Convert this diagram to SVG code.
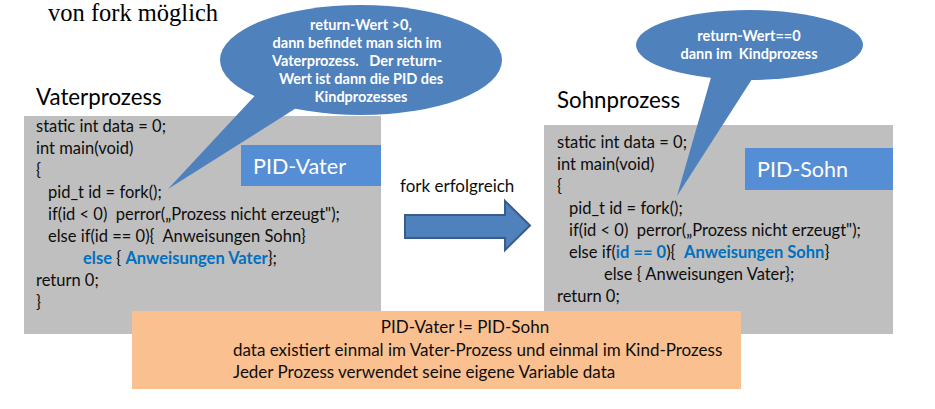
<svg xmlns="http://www.w3.org/2000/svg" width="935" height="409" viewBox="0 0 935 409">
  <style>
    text { white-space: pre; }
    .sans { font-family: Lato, "Open Sans", "Liberation Sans", sans-serif; }
    .code { font-family: Lato, "Open Sans", "Liberation Sans", sans-serif; font-size: 16.5px; fill: #0d0d0d; }
    .hl { font-weight: bold; fill: #0070C0; }
    .heading { font-family: Lato, "Open Sans", "Liberation Sans", sans-serif; font-size: 22.3px; fill: #000; }
    .pid { font-family: Lato, "Open Sans", "Liberation Sans", sans-serif; font-size: 21.5px; fill: #fff; }
    .bubble { fill: #4F81BD; }
    .bubble-text { font-family: Lato, "Open Sans", "Liberation Sans", sans-serif; font-size: 14.5px; font-weight: bold; fill: #fff; text-anchor: middle; }
    .codebox { fill: #BFBFBF; }
    .pidbox { fill: #558ED5; }
    .note { font-family: Lato, "Open Sans", "Liberation Sans", sans-serif; font-size: 17px; fill: #0d0d0d; }
  </style>

  <rect width="935" height="409" fill="#fff"/>

  <!-- heading line -->
  <text x="48" y="21" font-family="'Liberation Serif', serif" font-size="24.5" fill="#000">von fork möglich</text>

  <!-- parent process -->
  <g id="vaterprozess">
    <text class="heading" x="36" y="105">Vaterprozess</text>
    <rect class="codebox" x="24" y="116" width="357" height="218"/>
    <text class="code" x="36" y="132">static int data = 0;</text>
    <text class="code" x="36" y="154">int main(void)</text>
    <text class="code" x="36" y="176">{</text>
    <text class="code" x="48" y="198">pid_t id = fork();</text>
    <text class="code" x="48" y="220">if(id &lt; 0)  perror(„Prozess nicht erzeugt");</text>
    <text class="code" x="48" y="242">else if(id == 0){  Anweisungen Sohn}</text>
    <text class="code" x="83" y="264"><tspan class="hl">else</tspan> { <tspan class="hl">Anweisungen Vater</tspan>};</text>
    <text class="code" x="36" y="286">return 0;</text>
    <text class="code" x="36" y="308">}</text>
  </g>

  <g id="pid-vater">
    <rect class="pidbox" x="241" y="145" width="140" height="41"/>
    <text class="pid" x="253" y="174">PID-Vater</text>
  </g>

  <!-- callout for the parent -->
  <g id="callout-vater">
    <ellipse class="bubble" cx="361" cy="60" rx="141" ry="55"/>
    <polygon class="bubble" points="168,189 262,88 312,98"/>
    <text class="bubble-text" x="361" y="30">return-Wert &gt;0,</text>
    <text class="bubble-text" x="357" y="48">dann befindet man sich im</text>
    <text class="bubble-text" x="357" y="66">Vaterprozess.   Der return-</text>
    <text class="bubble-text" x="361" y="84">Wert ist dann die PID des</text>
    <text class="bubble-text" x="361" y="102">Kindprozesses</text>
  </g>

  <!-- child process -->
  <g id="sohnprozess">
    <text class="heading" x="557" y="108">Sohnprozess</text>
    <rect class="codebox" x="544" y="125" width="349" height="209"/>
    <text class="code" x="557" y="148">static int data = 0;</text>
    <text class="code" x="557" y="170">int main(void)</text>
    <text class="code" x="557" y="192">{</text>
    <text class="code" x="569" y="214">pid_t id = fork();</text>
    <text class="code" x="569" y="236">if(id &lt; 0)  perror(„Prozess nicht erzeugt");</text>
    <text class="code" x="569" y="258">else if(<tspan class="hl">id == 0</tspan>){  <tspan class="hl">Anweisungen Sohn</tspan>}</text>
    <text class="code" x="604" y="280">else { Anweisungen Vater};</text>
    <text class="code" x="557" y="302">return 0;</text>
  </g>

  <g id="pid-sohn">
    <rect class="pidbox" x="745" y="148" width="148" height="42"/>
    <text class="pid" x="757" y="177">PID-Sohn</text>
  </g>

  <!-- callout for the child -->
  <g id="callout-sohn">
    <ellipse class="bubble" cx="749.5" cy="45" rx="113.5" ry="35"/>
    <polygon class="bubble" points="677,196 712,74 754,76"/>
    <text class="bubble-text" x="749" y="41">return-Wert==0</text>
    <text class="bubble-text" x="749" y="59">dann im  Kindprozess</text>
  </g>

  <!-- connector: fork succeeded -->
  <g id="connectors">
    <text class="sans" x="400" y="192" font-size="17" fill="#0d0d0d">fork erfolgreich</text>
    <polygon points="405,215 505,215 505,201 530,225.5 505,250 505,238 405,238" fill="#4F81BD" stroke="#385D8A" stroke-width="2" stroke-linejoin="miter"/>
  </g>

  <!-- summary -->
  <g id="summary">
    <rect x="132" y="311" width="609" height="78" fill="#FAC090"/>
    <text class="note" x="465" y="333" text-anchor="middle">PID-Vater != PID-Sohn</text>
    <text class="note" x="233" y="356">data existiert einmal im Vater-Prozess und einmal im Kind-Prozess</text>
    <text class="note" x="233" y="378">Jeder Prozess verwendet seine eigene Variable data</text>
  </g>
</svg>
